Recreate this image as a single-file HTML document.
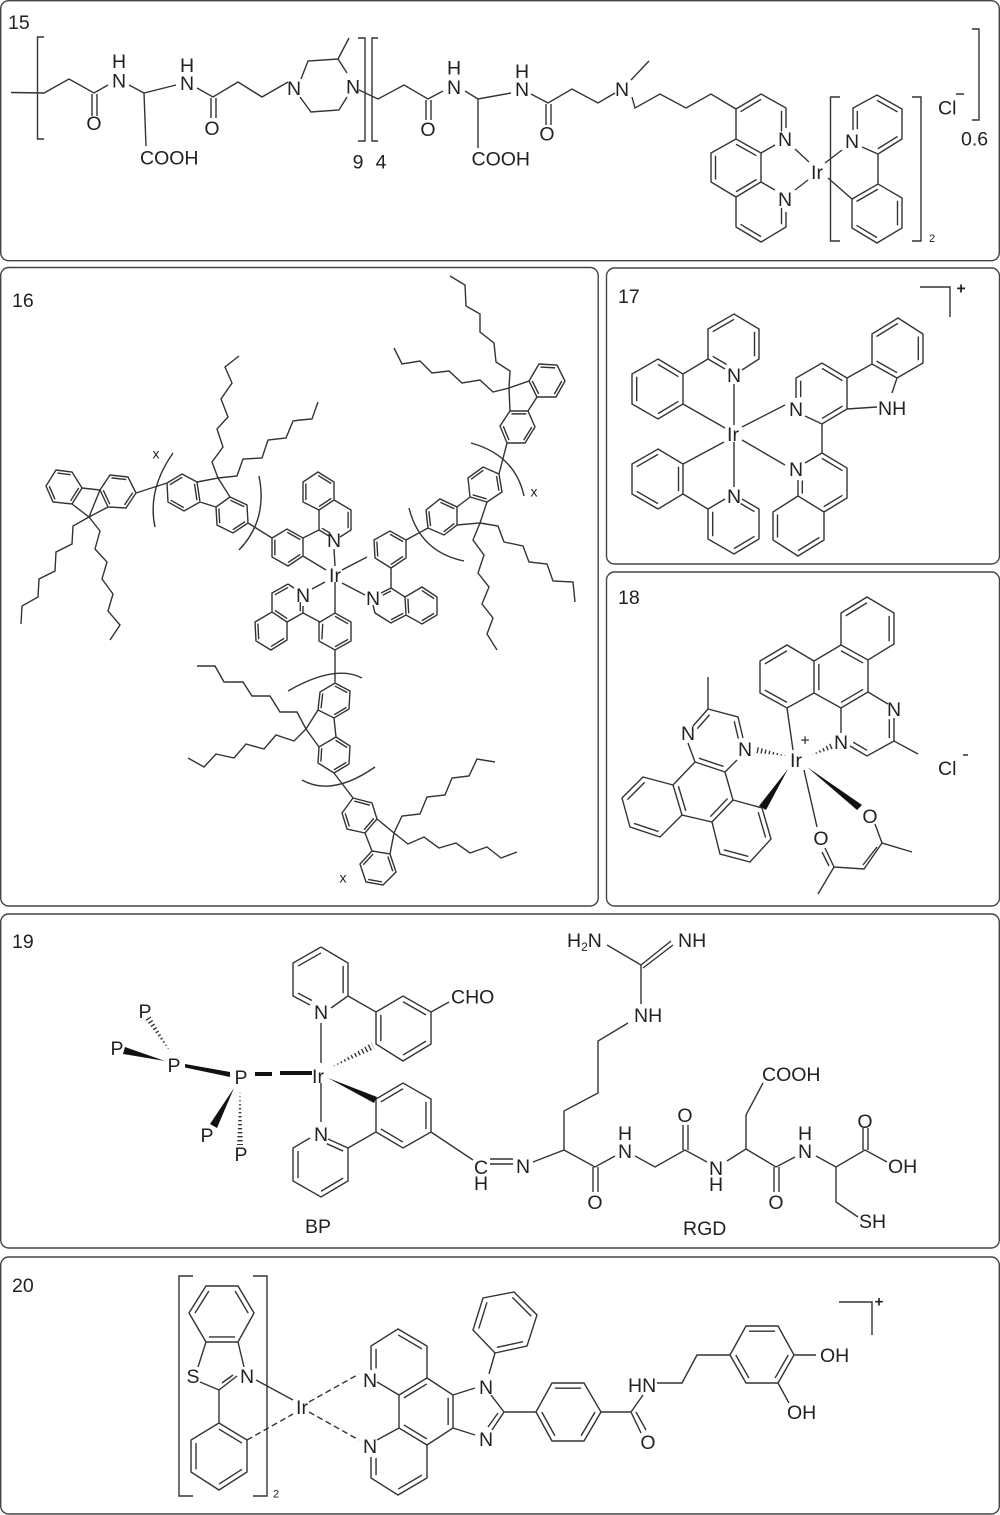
<!DOCTYPE html>
<html><head><meta charset="utf-8"><style>
html,body{margin:0;padding:0;background:#fff}
svg{display:block}
text{font-family:"Liberation Sans",sans-serif;font-size:19.5px;fill:#222;text-anchor:middle}
text:not(.s){transform:translateY(.5px)}
text.s{text-anchor:start}
path,line{fill:none;stroke:#333;stroke-width:1.4;vector-effect:non-scaling-stroke}
path.f{fill:#111;stroke:none}
rect{fill:#fff;stroke:#444;stroke-width:1.4}
</style></head><body>
<svg width="1000" height="1515" viewBox="0 0 1000 1515" xmlns="http://www.w3.org/2000/svg">
<defs>
<clipPath id="h1"><polygon points="812,755 830.8,743.3 833.2,748.7"/></clipPath>
<clipPath id="h2"><polygon points="757.6,747 756.4,753 787,756"/></clipPath>
<clipPath id="h3"><polygon points="150.5,1016.4 145.5,1019.6 171,1053"/></clipPath>
<clipPath id="h4"><polygon points="237,1145 243,1145 240,1088"/></clipPath>
<clipPath id="h5"><polygon points="330,1068 371.4,1042.9 374.6,1049.1"/></clipPath>
</defs>
<rect x="0.7" y="0.7" width="998.6" height="260" rx="8"/>
<rect x="0.7" y="267.5" width="597.5" height="638.5" rx="8"/>
<rect x="606.5" y="268" width="393" height="296" rx="8"/>
<rect x="606.5" y="572" width="393" height="334" rx="8"/>
<rect x="0.7" y="914" width="998.6" height="334" rx="8"/>
<rect x="0.7" y="1257" width="998.6" height="257" rx="8"/>

<!-- 15 -->
<text class="s" x="8" y="29">15</text>
<path d="M44,37H37.5V139H44M358,38H365V141H358M378,38H372V141H378M11,92.5L44,93L69,79L94,93L108,85M129,85L144,93L176,85M144,93L146,146M197,88L213,97L238,82L262,97L288,82M301,79L308,61L338,59L347,73M347,97L339,110L311,112L300,97M338,59L349,38M359,90L378,99L404,85L428,99L443,91M465,91L478,99L511,93M478,99V148M531,94L548,103L572,89L598,103L615,93M631,80L649,61M632,97L635,108L660,94L686,108L711,94L736,109L761,94L786,108V128M736,109V139L761,153V182L736,197L711,182V153L736,139M761,153L775,145M761,182L775,190M786,212V227L761,242L736,227V197M795,149L809,162M795,190L808,180M825,163L842,150M828,178L852,199L878,184L902,198V228L877,243L852,228V199M878,184V154L902,139V109L877,95L853,108V130M862,147L878,154M840,97H830.5V241H840M912,97H921V241H912M972,29H979V120H972M92,94V116M97,94V116M211,98V118M216,98V118M426,100V120M431,100V120M546,104V125M551,104V125M956,94H964"/>
<path transform="translate(761 124) scale(.82) translate(-761 -124)" d="M736,109L761,94M786,108V133"/>
<path transform="translate(736 168) scale(.82) translate(-736 -168)" d="M736,139L761,153M711,153V182M736,197L761,182"/>
<path transform="translate(761 212) scale(.82) translate(-761 -212)" d="M736,227L761,242M786,227V207"/>
<path transform="translate(877 125) scale(.82) translate(-877 -125)" d="M877,95L902,109M853,108V130M902,139L878,154"/>
<path transform="translate(877 213) scale(.82) translate(-877 -213)" d="M878,184L852,199M902,198V228M877,243L852,228"/>
<text x="119" y="87">N</text><text x="119" y="67.5">H</text><text x="187" y="89.5">N</text><text x="187" y="71.5">H</text>
<text x="294" y="94.5">N</text><text x="353" y="93">N</text><text x="454" y="93.5">N</text><text x="454" y="74">H</text>
<text x="94" y="129.5">O</text><text x="212" y="134.5">O</text><text x="428" y="135.5">O</text><text x="547" y="140">O</text>
<text class="s" x="140" y="164.5">COOH</text><text class="s" x="471.5" y="165.5">COOH</text>
<text x="522" y="95.5">N</text><text x="522" y="77.5">H</text><text x="622" y="95.5">N</text>
<text x="785" y="145.5">N</text><text x="785" y="205.5">N</text><text x="817" y="178.5">Ir</text><text x="852" y="147.5">N</text>
<text class="s" x="938" y="114.5">Cl</text><text class="s" x="961" y="145.7">0.6</text><text x="932" y="241.7" style="font-size:11px">2</text>
<text x="358" y="168">9</text><text x="381" y="168">4</text>

<!-- 16 -->
<text class="s" x="12" y="307">16</text>
<path d="M56,470L72,472L82,488L72,504L53,502L46,486ZM82,488L100,490L89,517L72,504M100,490L110,475L128,477L136,493L126,508L108,507L100,490M108,507L89,517M136,493L167,483M182,474L197,482L200,502L184,511L168,502L167,483ZM197,482L218,478L230,497L247,505L248,523L233,533L217,525L216,507L230,497M200,502L216,507M248,523L272,538L287,529L303,538V556L288,566L272,557V538M303,538L319,530V510L334,500L351,510V530L340,537M319,510L303,502V482L318,472L334,482V500M319,530L329,536M334,549L335,566M303,556L326,570M342,570L367,557M374,540L390,531L406,540V558L391,568L375,558ZM391,568V588L405,597L422,587L437,597V615L422,624L406,615L391,623L375,613L373,605M391,588L381,593M405,597L406,615M342,583L365,595M406,540L428,528L444,535L457,525V507L440,499L426,510L428,528M457,525L480,523L487,502L502,492L499,474L483,467L468,478L470,497L487,502M457,507L470,497M499,474L507,443L500,426L510,411L528,411L535,427L525,443H507M510,411L509,388L529,381L539,364L557,365L565,381L556,397L537,397L529,381M528,411L537,397M325,582L312,589M288,584L272,593V612L287,622L303,613V606M288,584L294,588M272,612L255,622L256,641L271,650L287,640V622M303,613L320,622L335,613L351,622V641L335,650L319,641V622M335,582V613M335,650V683M335,683L350,691L349,709L334,718L318,710L320,692ZM318,710L306,729L319,747L336,737L350,746L349,764L334,773L318,763L319,747M334,718L336,737M334,773L353,798M353,798L372,803L377,819L365,833L347,829L342,813ZM377,819L394,833L390,854L372,851L365,833M372,851L360,864L366,882L383,885L396,872L390,854"/>
<path d="M89,517L73,526L72,544L56,552L55,571L39,579L38,597L22,606L21,624M89,517L100,531L95,549L107,562L102,579L113,594L108,611L120,625L110,640M218,478L212,462L223,447L217,429L228,417L221,399L232,383L225,367L239,356M218,478L237,476L243,459L262,458L268,440L286,438L293,421L300,420L312,419L318,402M480,523L498,526L504,542L523,546L529,562L547,564L553,581L573,582L575,602M480,523L473,540L484,555L478,573L489,587L482,604L493,618L487,634L497,650M509,388L510,371L496,362L494,343L480,332L480,314L466,306L465,285L450,276M509,388L493,392L480,380L462,383L449,371L432,373L420,361L402,364L394,348M306,729L297,712L280,712L270,696L252,696L243,682L224,682L215,666L197,666M306,729L294,741L276,735L264,749L246,744L234,758L216,754L204,767L188,758M394,833L402,816L420,814L427,797L445,795L452,778L469,776L477,759L495,762M394,833L408,844L424,837L439,848L456,843L470,853L487,847L501,858L517,852"/>
<path d="M173,453Q147,490 155,527M259,476Q268,520 239,550M409,508Q420,552 464,561M471,443Q515,455 524,496M288,691Q335,664 362,678M302,780Q332,797 375,767"/>
<path transform="translate(64 487) scale(.82) translate(-64 -487)" d="M56,470L72,472M82,488L72,504M53,502L46,486"/>
<path transform="translate(118 491) scale(.82) translate(-118 -491)" d="M110,475L128,477M136,493L126,508M108,507L100,490"/>
<path transform="translate(183 492) scale(.82) translate(-183 -492)" d="M182,474L167,483M197,482L200,502M184,511L168,502"/>
<path transform="translate(232 515) scale(.82) translate(-232 -515)" d="M230,497L247,505M248,523L233,533M217,525L216,507"/>
<path transform="translate(288 547) scale(.82) translate(-288 -547)" d="M272,538V557M287,529L303,538M288,566L303,556"/>
<path transform="translate(319 491) scale(.82) translate(-319 -491)" d="M318,472L334,482M303,482V502M334,500L319,510"/>
<path transform="translate(335 520) scale(.82) translate(-335 -520)" d="M351,510V530M319,530L329,536"/>
<path transform="translate(390 549) scale(.82) translate(-390 -549)" d="M375,558L374,540M390,531L406,540M391,568L406,558"/>
<path transform="translate(391 605) scale(.82) translate(-391 -605)" d="M391,588L381,593M406,615L391,623"/>
<path transform="translate(421 606) scale(.82) translate(-421 -606)" d="M422,587L437,597M437,615L422,624M405,597L406,615"/>
<path transform="translate(442 517) scale(.82) translate(-442 -517)" d="M426,510L428,528M440,499L457,507M457,525L444,535"/>
<path transform="translate(485 485) scale(.82) translate(-485 -485)" d="M470,497L487,502M468,478L483,467M499,474L502,492"/>
<path transform="translate(518 427) scale(.82) translate(-518 -427)" d="M510,411L528,411M535,427L525,443M507,443L500,426"/>
<path transform="translate(547 381) scale(.82) translate(-547 -381)" d="M539,364L557,365M565,381L556,397M537,397L529,381"/>
<path transform="translate(288 603) scale(.82) translate(-288 -603)" d="M288,584L272,593M287,622L272,612M303,613V602"/>
<path transform="translate(271 631) scale(.82) translate(-271 -631)" d="M255,622L256,641M271,650L287,640"/>
<path transform="translate(335 632) scale(.82) translate(-335 -632)" d="M335,613L351,622M351,641L335,650M319,641L320,622"/>
<path transform="translate(335 700) scale(.82) translate(-335 -700)" d="M335,683L350,691M349,709L334,718M318,710L320,692"/>
<path transform="translate(334 755) scale(.82) translate(-334 -755)" d="M336,737L350,746M349,764L334,773M318,763L319,747"/>
<path transform="translate(360 815) scale(.82) translate(-360 -815)" d="M353,798L372,803M365,833L377,819M347,829L342,813"/>
<path transform="translate(378 868) scale(.82) translate(-378 -868)" d="M372,851L360,864M390,854L396,872M383,885L366,882"/>
<text x="334" y="546.5">N</text><text x="335" y="581.5">Ir</text><text x="373" y="604.5">N</text><text x="303" y="601.5">N</text>
<text x="156" y="458" style="font-size:14px">x</text><text x="534" y="496" style="font-size:14px">x</text><text x="343" y="882" style="font-size:14px">x</text>

<!-- 17 -->
<text class="s" x="618" y="303">17</text>
<path d="M920,287H950V317M658,359L683,374V404L658,419L632,404V374ZM683,374L708,359V329L734,314L759,329V359L742,370M708,359L725,369M734,384V425M683,404L725,428M658,449L683,464V494L658,509L632,494V464ZM683,464L724,442M683,494L708,509V539L734,554L759,539V509L742,499M708,509L725,499M734,442V487M742,427L785,405M742,440L785,465M796,398V378L822,363L847,378V409L822,424L805,416M847,378L872,364L897,378L892,393M847,409L877,407M872,364V334L898,318L923,334V363L897,378M822,424V453L847,468V498L824,512L798,496V480M822,453L805,463M824,512V540L798,556L773,540V512L798,496"/>
<path transform="translate(658 389) scale(.82) translate(-658 -389)" d="M658,359L683,374M683,404L658,419M632,404V374"/>
<path transform="translate(734 344) scale(.82) translate(-734 -344)" d="M708,329L734,314M759,329V359M708,359L725,369"/>
<path transform="translate(658 479) scale(.82) translate(-658 -479)" d="M632,464L658,449M683,464V494M632,494L658,509"/>
<path transform="translate(734 524) scale(.82) translate(-734 -524)" d="M708,509V539M734,554L759,539M759,509L742,499"/>
<path transform="translate(822 393) scale(.82) translate(-822 -393)" d="M796,378V398M822,363L847,378M847,409L822,424"/>
<path transform="translate(897 348) scale(.82) translate(-897 -348)" d="M872,334L898,318M923,334V363M897,378L872,364"/>
<path transform="translate(822 483) scale(.82) translate(-822 -483)" d="M822,453L847,468M847,498L824,512M798,496V480"/>
<path transform="translate(798 526) scale(.82) translate(-798 -526)" d="M773,512V540M798,556L824,540"/>
<text x="734" y="381.5">N</text><text x="733" y="440.5">Ir</text><text x="734" y="502.5">N</text><text x="796" y="415.5">N</text><text x="796" y="475.5">N</text>
<text class="s" x="878" y="415">NH</text><text x="961" y="293" style="font-size:16px;font-weight:bold">+</text>

<!-- 18 -->
<text class="s" x="618" y="604">18</text>
<path d="M867,597L894,613V644L868,660L841,645V613ZM841,645L814,661V693L841,708L868,692V660M814,661L787,645L760,661V693L787,708L814,693M868,692L888,704M894,718V741M918,754L894,741L867,756L850,746M841,733V708M787,708L793,750M708,677V709L738,717L743,738M708,709L693,726M688,743L695,762L725,772L737,760M695,762L673,785L682,815L712,822L733,800L725,772M673,785L643,777L622,798L630,827L660,837L682,815M733,800L762,808L771,839L750,862L720,854L712,822M804,770L817,827M875,824L882,843L912,852M882,843L864,869L834,867L818,894M877,847L863,865M825,848L834,867M822,852L829,866M963,755H968"/>
<line x1="812" y1="755" x2="833" y2="746" stroke-dasharray="1.4 2.6" clip-path="url(#h1)" style="stroke-width:10"/>
<line x1="757" y1="750" x2="787" y2="756" stroke-dasharray="1.4 2.6" clip-path="url(#h2)" style="stroke-width:10"/>
<path class="f" d="M788,769L766,810L759,806ZM807,767L862,805L857,810Z"/>
<path transform="translate(867 629) scale(.82) translate(-867 -629)" d="M841,613L867,597M894,613V644"/>
<path transform="translate(841 677) scale(.82) translate(-841 -677)" d="M841,645L868,660M814,661V693M868,692L841,708"/>
<path transform="translate(787 677) scale(.82) translate(-787 -677)" d="M787,645L760,661M760,693L787,708"/>
<path transform="translate(868 725) scale(.82) translate(-868 -725)" d="M894,718V741M867,756L850,746"/>
<path transform="translate(717 741) scale(.82) translate(-717 -741)" d="M738,717L743,738M695,762L725,772M708,709L693,726"/>
<path transform="translate(703 792) scale(.82) translate(-703 -792)" d="M733,800L712,822M682,815L673,785"/>
<path transform="translate(652 807) scale(.82) translate(-652 -807)" d="M643,777L622,798M630,827L660,837"/>
<path transform="translate(741 831) scale(.82) translate(-741 -831)" d="M762,808L771,839M750,862L720,854"/>
<text x="796" y="766.5">Ir</text><text x="805" y="745" style="font-size:16px">+</text><text x="894" y="715.5">N</text><text x="841" y="748.5">N</text><text x="688" y="739.5">N</text><text x="745" y="755.5">N</text>
<text x="870" y="822.5">O</text><text x="821" y="844.5">O</text><text class="s" x="938" y="775">Cl</text>

<!-- 19 -->
<text class="s" x="12" y="948">19</text>
<path d="M321,947L348,963V996L331,1008M321,947L293,963V996L310,1005M321,1023V1063M348,996L376,1012L403,996L431,1012V1044L403,1061L376,1044V1012M431,1012L449,1002M321,1083V1122M310,1138L293,1148V1181L321,1197L348,1181V1148L328,1139M348,1148L376,1132V1099L403,1083L431,1099V1132L403,1148L376,1132M431,1132L473,1160M490,1159H513M490,1164H513M533,1162L564,1150V1111L598,1093V1041L628,1023M641,1004V965L607,945M641,965L671,941M643,968L673,945M564,1150L595,1167L615,1156M593,1167V1192M598,1167V1192M635,1156L655,1167L685,1150L707,1162M683,1150V1125M688,1150V1125M727,1161L746,1149V1115L763,1083M746,1149L776,1167L795,1157M774,1167V1192M779,1167V1192M816,1156L836,1167L865,1150L887,1162M863,1150V1128M868,1150V1128M836,1167V1202L858,1217"/>
<line x1="148" y1="1018" x2="171" y2="1053" stroke-dasharray="1.4 2.6" clip-path="url(#h3)" style="stroke-width:10"/>
<line x1="240" y1="1088" x2="240" y2="1145" stroke-dasharray="1.4 2.6" clip-path="url(#h4)" style="stroke-width:10"/>
<line x1="330" y1="1068" x2="373" y2="1046" stroke-dasharray="1.4 2.6" clip-path="url(#h5)" style="stroke-width:10"/>
<path class="f" d="M185,1064L230,1072V1077L185,1067.5ZM255,1072H272V1076H255ZM280,1071H312V1075H280ZM125,1047L123,1054L165,1061ZM234,1088L217,1128L210,1124ZM328,1078L377,1097L374,1103Z"/>
<path transform="translate(321 980) scale(.82) translate(-321 -980)" d="M293,963L321,947M348,963V996M293,996L310,1005"/>
<path transform="translate(403 1028) scale(.82) translate(-403 -1028)" d="M403,996L431,1012M431,1044L403,1061M376,1044V1012"/>
<path transform="translate(403 1115) scale(.82) translate(-403 -1115)" d="M376,1099L403,1083M431,1099V1132M403,1148L376,1132"/>
<path transform="translate(321 1165) scale(.82) translate(-321 -1165)" d="M293,1148V1181M321,1197L348,1181M348,1148L328,1139"/>
<text x="145" y="1017.5">P</text><text x="117" y="1054.5">P</text><text x="174" y="1071.5">P</text><text x="241" y="1083.5">P</text><text x="207" y="1141.5">P</text><text x="241" y="1160.5">P</text>
<text x="321" y="1018.5">N</text><text x="318" y="1082.5">Ir</text><text x="321" y="1140.5">N</text>
<text class="s" x="451" y="1003.3">CHO</text><text x="481" y="1173.5">C</text><text x="481" y="1189.5">H</text><text x="523" y="1172.5">N</text>
<text class="s" x="567" y="947">H<tspan font-size="12" dy="4">2</tspan><tspan dy="-4">N</tspan></text><text class="s" x="678" y="947">NH</text><text class="s" x="634" y="1022">NH</text>
<text x="595" y="1208.5">O</text><text x="625" y="1157.5">N</text><text x="625" y="1139.5">H</text><text x="685" y="1121.5">O</text>
<text x="716" y="1174.5">N</text><text x="716" y="1190.5">H</text><text class="s" x="762" y="1081">COOH</text><text x="776" y="1208.5">O</text>
<text x="805" y="1157.5">N</text><text x="805" y="1139.5">H</text><text x="865" y="1127.5">O</text><text class="s" x="888" y="1173">OH</text><text class="s" x="859" y="1228">SH</text>
<text class="s" x="683" y="1235">RGD</text><text class="s" x="305" y="1233">BP</text>

<!-- 20 -->
<text class="s" x="12" y="1292">20</text>
<path d="M193,1276H179V1496H193M253,1276H267V1496H253M206,1286H238L254,1313L238,1342H206L189,1313ZM206,1342L198,1367M238,1342L244,1367M200,1382L219,1390L237,1376M222,1383L233,1375M219,1390V1423M219,1423L247,1440V1472L219,1490L191,1472V1440ZM256,1380L293,1400M371,1370V1346L398,1329L427,1346V1378L399,1395L377,1382M427,1378L453,1395V1428L427,1445L399,1428V1395M399,1428L377,1440M371,1457V1478L398,1495L427,1478V1445M453,1395L475,1388M491,1395L504,1412L492,1430M498,1413L488,1427M453,1428L475,1435M489,1374L495,1353M495,1353L527,1346L537,1315L514,1292L483,1298L473,1330ZM504,1412H536L552,1383H584L601,1412L584,1441H552L536,1412M601,1412H631L643,1395M631,1412L641,1433M636,1412L646,1430M657,1383H682L697,1355H730L746,1326H778L794,1355L778,1383H746L730,1355M794,1355H816M778,1383L789,1403M839,1302H872V1335"/>
<path d="M247,1440L293,1414M309,1402L359,1374M309,1412L359,1440" style="stroke-dasharray:6 3.5"/>
<path transform="translate(222 1314) scale(.82) translate(-222 -1314)" d="M206,1286L189,1313M238,1286L254,1313M206,1342H238"/>
<path transform="translate(219 1457) scale(.82) translate(-219 -1457)" d="M219,1423L247,1440M191,1440V1472M219,1490L247,1472"/>
<path transform="translate(399 1362) scale(.82) translate(-399 -1362)" d="M371,1346V1370M398,1329L427,1346"/>
<path transform="translate(426 1411) scale(.82) translate(-426 -1411)" d="M399,1395L427,1378M453,1395V1428M399,1428L427,1445"/>
<path transform="translate(399 1462) scale(.82) translate(-399 -1462)" d="M371,1457V1478M398,1495L427,1478"/>
<path transform="translate(505 1322) scale(.82) translate(-505 -1322)" d="M483,1298L473,1330M514,1292L537,1315M527,1346L495,1353"/>
<path transform="translate(568 1412) scale(.82) translate(-568 -1412)" d="M552,1383H584M601,1412L584,1441M552,1441L536,1412"/>
<path transform="translate(762 1355) scale(.82) translate(-762 -1355)" d="M746,1326H778M794,1355L778,1383M746,1383L730,1355"/>
<text x="193" y="1382.5">S</text><text x="247" y="1382.5">N</text><text x="302" y="1413.5">Ir</text><text x="370" y="1386.5">N</text><text x="370" y="1452.5">N</text><text x="486" y="1393.5">N</text><text x="486" y="1445.5">N</text>
<text x="276" y="1497" style="font-size:11px">2</text><text x="648" y="1448.5">O</text><text class="s" x="628" y="1392">HN</text><text class="s" x="820" y="1362">OH</text><text class="s" x="787" y="1419">OH</text>
<text x="879" y="1306" style="font-size:15px;font-weight:bold">+</text>
</svg>
</body></html>
